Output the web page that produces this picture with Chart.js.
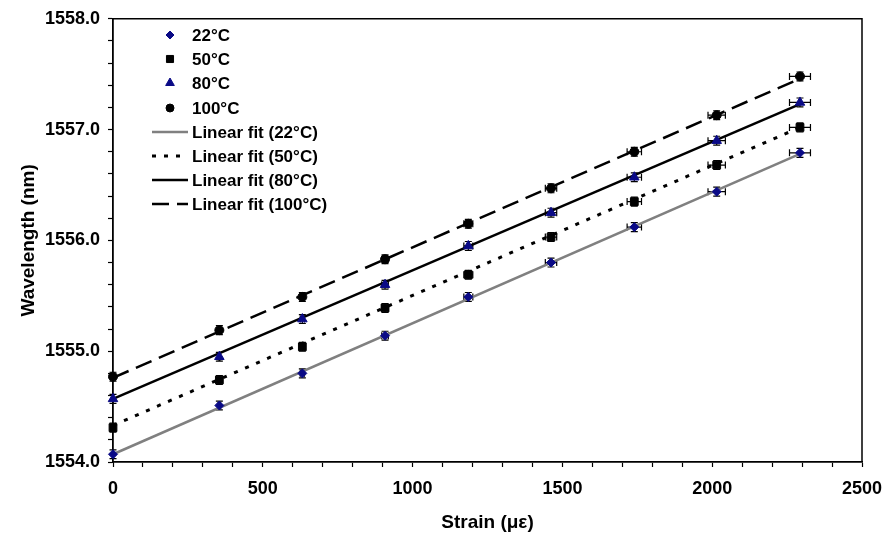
<!DOCTYPE html>
<html>
<head>
<meta charset="utf-8">
<script src="https://cdn.jsdelivr.net/npm/chart.js@4.4.0/dist/chart.umd.min.js"></script>
<style>
  html, body { margin: 0; padding: 0; background: #fff; }
  #wrap { width: 887px; height: 539px; }
</style>
</head>
<body>
<div id="wrap"><canvas id="grafico" width="887" height="539"></canvas></div>
<script>
const strain = [0, 355, 632, 908, 1186, 1462, 1740, 2015, 2293];
const wl22 = [1554.07, 1554.51, 1554.80, 1555.14, 1555.49, 1555.80, 1556.12, 1556.44, 1556.79];
const wl50 = [1554.31, 1554.74, 1555.04, 1555.39, 1555.69, 1556.03, 1556.35, 1556.68, 1557.02];
const wl80 = [1554.57, 1554.95, 1555.29, 1555.60, 1555.95, 1556.25, 1556.57, 1556.90, 1557.245];
const wl100 = [1554.77, 1555.19, 1555.49, 1555.83, 1556.15, 1556.47, 1556.80, 1557.13, 1557.48];
const yErr = [0.04, 0.04, 0.04, 0.04, 0.04, 0.04, 0.04, 0.04, 0.04];
const xErr = [0, 4, 7, 11, 15, 19, 24, 29, 35];

const seriesLabels = ["22\u00B0C", "50\u00B0C", "80\u00B0C", "100\u00B0C"];
const fitLabels = ["Linear fit (22\u00B0C)", "Linear fit (50\u00B0C)", "Linear fit (80\u00B0C)", "Linear fit (100\u00B0C)"];
const fitStrain = [0, 2293];
const fitStart = [1554.07, 1554.33, 1554.57, 1554.76];
const fitEnd = [1556.78, 1557.02, 1557.23, 1557.46];

const xTicks = [0, 500, 1000, 1500, 2000, 2500];
const yTicks = [1554, 1555, 1556, 1557, 1558];

const FONT = "'Liberation Sans', Arial, sans-serif";
const NAVY = "#0a0a86";

const pointStyles = [
  { style: "rectRot", color: NAVY, radius: 4.5 },
  { style: "rect", color: "#000", radius: 5.5 },
  { style: "triangle", color: NAVY, radius: 5.5 },
  { style: "circle", color: "#000", radius: 4.5 },
];
const fitStyles = [
  { color: "#808080", dash: [], width: 2.5 },
  { color: "#000", dash: [4, 8], width: 3 },
  { color: "#000", dash: [], width: 2.5 },
  { color: "#000", dash: [17, 8], width: 2.5 },
];

function toPoints(xs, ys) {
  return xs.map((x, i) => ({ x: x, y: ys[i] }));
}

const allSeries = [wl22, wl50, wl80, wl100];

const datasets = [];
allSeries.forEach((ys, i) => {
  datasets.push({
    label: seriesLabels[i],
    data: toPoints(strain, ys),
    showLine: false,
    pointStyle: pointStyles[i].style,
    pointRadius: pointStyles[i].radius,
    pointBackgroundColor: pointStyles[i].color,
    pointBorderColor: pointStyles[i].color,
    pointBorderWidth: 1,
    clip: false,
  });
});
fitLabels.forEach((lab, i) => {
  datasets.push({
    label: lab,
    data: toPoints(fitStrain, [fitStart[i], fitEnd[i]]),
    showLine: true,
    borderColor: fitStyles[i].color,
    borderWidth: fitStyles[i].width,
    borderDash: fitStyles[i].dash,
    pointRadius: 0,
    clip: false,
  });
});

// error bars, drawn under the markers
const errorBars = {
  id: "errorBars",
  beforeDatasetsDraw(chart) {
    const ctx = chart.ctx;
    const xs = chart.scales.x;
    const ys = chart.scales.y;
    ctx.save();
    ctx.strokeStyle = "#000";
    ctx.lineWidth = 1.2;
    allSeries.forEach((serie) => {
      serie.forEach((v, j) => {
        const px = xs.getPixelForValue(strain[j]);
        const py = ys.getPixelForValue(v);
        const top = ys.getPixelForValue(v + yErr[j]);
        const bot = ys.getPixelForValue(v - yErr[j]);
        ctx.beginPath();
        ctx.moveTo(px, top); ctx.lineTo(px, bot);
        ctx.moveTo(px - 3.5, top); ctx.lineTo(px + 3.5, top);
        ctx.moveTo(px - 3.5, bot); ctx.lineTo(px + 3.5, bot);
        if (xErr[j] > 0) {
          const l = xs.getPixelForValue(strain[j] - xErr[j]);
          const r = xs.getPixelForValue(strain[j] + xErr[j]);
          ctx.moveTo(l, py); ctx.lineTo(r, py);
          ctx.moveTo(l, py - 3.5); ctx.lineTo(l, py + 3.5);
          ctx.moveTo(r, py - 3.5); ctx.lineTo(r, py + 3.5);
        }
        ctx.stroke();
      });
    });
    ctx.restore();
  },
};

// box around plot area + legend inside it
const frameAndLegend = {
  id: "frameAndLegend",
  afterDraw(chart) {
    const ctx = chart.ctx;
    const a = chart.chartArea;
    ctx.save();
    ctx.strokeStyle = "#000";
    ctx.lineWidth = 1.5;
    ctx.beginPath();
    ctx.moveTo(a.left, a.top); ctx.lineTo(a.right, a.top); ctx.lineTo(a.right, a.bottom);
    ctx.stroke();

    ctx.font = "bold 17px " + FONT;
    ctx.textBaseline = "middle";
    const rows = [35, 59, 83, 108, 132, 156, 180, 204];
    chart.data.datasets.forEach((ds, i) => {
      const y = rows[i];
      if (i < 4) {
        ctx.fillStyle = ds.pointBackgroundColor;
        ctx.strokeStyle = ds.pointBorderColor;
        ctx.lineWidth = 1;
        Chart.helpers.drawPoint(ctx, { pointStyle: ds.pointStyle, radius: ds.pointRadius - 0.5, borderWidth: 1 }, 170, y);
      } else {
        ctx.strokeStyle = ds.borderColor;
        ctx.lineWidth = ds.borderWidth;
        ctx.setLineDash(ds.borderDash);
        ctx.beginPath();
        ctx.moveTo(152, y); ctx.lineTo(188, y);
        ctx.stroke();
        ctx.setLineDash([]);
      }
      ctx.fillStyle = "#000";
      ctx.fillText(ds.label, 192, y + 1);
    });
    ctx.restore();
  },
};

const tickFont = { family: FONT, size: 18, weight: "bold" };
const titleFont = { family: FONT, size: 19, weight: "bold" };

new Chart(document.querySelector("#grafico"), {
  type: "scatter",
  data: { datasets: datasets },
  plugins: [errorBars, frameAndLegend],
  options: {
    responsive: false,
    animation: false,
    layout: { padding: { left: 0, right: 25, top: 17, bottom: 0 } },
    plugins: { legend: { display: false }, tooltip: { enabled: false } },
    scales: {
      x: {
        type: "linear",
        min: 0,
        max: 2500,
        afterFit(scale) {
          scale.height = 77;
          scale.paddingLeft = 0;
          scale.paddingRight = 0;
        },
        ticks: {
          stepSize: 100,
          autoSkip: false,
          maxRotation: 0,
          padding: 11,
          color: "#000",
          font: tickFont,
          callback: (v) => (xTicks.includes(v) ? String(v) : ""),
        },
        grid: { drawOnChartArea: false, drawTicks: true, tickLength: 5, tickWidth: 1.2, color: "#000" },
        border: { color: "#000", width: 1.8 },
        title: {
          display: true,
          text: "Strain (\u03BC\u03B5)",
          color: "#000",
          font: titleFont,
          padding: { top: 0, bottom: 5 },
        },
      },
      y: {
        type: "linear",
        min: 1554,
        max: 1558,
        afterFit(scale) { scale.width = 113; },
        ticks: {
          stepSize: 0.2,
          autoSkip: false,
          padding: 8,
          color: "#000",
          font: tickFont,
          callback: (v) => {
            const r = Math.round(v);
            return yTicks.includes(r) && Math.abs(v - r) < 1e-6 ? r.toFixed(1) : "";
          },
        },
        grid: { drawOnChartArea: false, drawTicks: true, tickLength: 5, tickWidth: 1.2, color: "#000" },
        border: { color: "#000", width: 1.8 },
        title: {
          display: true,
          text: "Wavelength (nm)",
          color: "#000",
          font: titleFont,
          padding: { top: 17, bottom: 0 },
        },
      },
    },
  },
});
</script>
</body>
</html>
